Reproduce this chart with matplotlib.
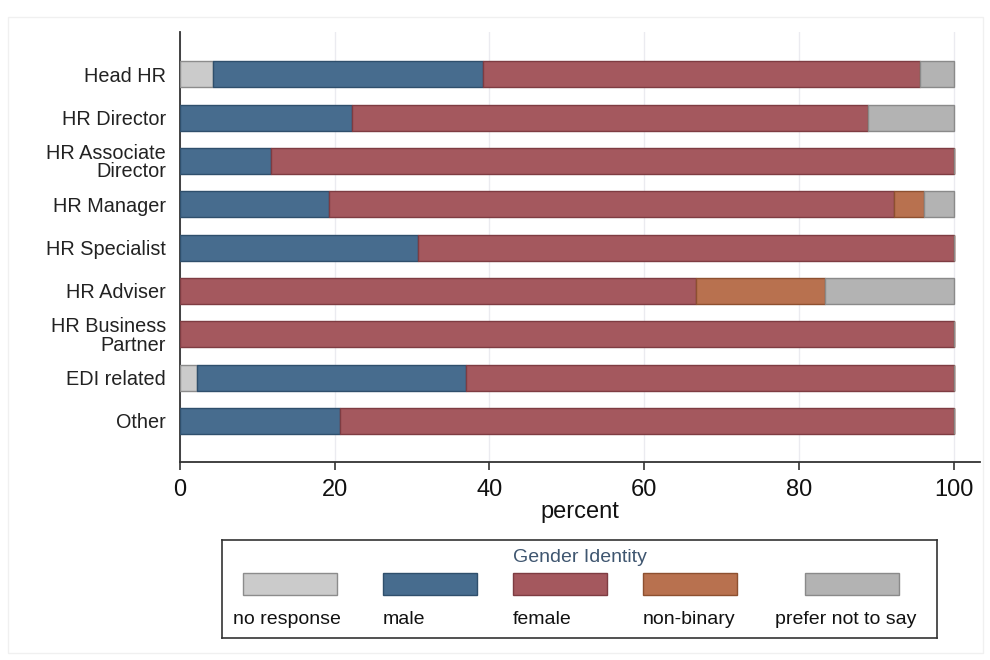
import matplotlib.pyplot as plt
import numpy as np
from matplotlib.patches import Rectangle

plt.rcParams['font.family'] = ['Liberation Sans', 'DejaVu Sans']

# categories (top to bottom)
roles = ["Head HR", "HR Director", "HR Associate\nDirector", "HR Manager",
         "HR Specialist", "HR Adviser", "HR Business\nPartner", "EDI related", "Other"]

# percent per gender identity
no_response = [4.3, 0, 0, 0, 0, 0, 0, 2.2, 0]
male = [34.8, 22.2, 11.8, 19.2, 30.8, 0, 0, 34.8, 20.7]
female = [56.5, 66.7, 88.2, 73.1, 69.2, 66.7, 100, 63.0, 79.3]
non_binary = [0, 0, 0, 3.9, 0, 16.7, 0, 0, 0]
prefer_not = [4.4, 11.1, 0, 3.8, 0, 16.6, 0, 0, 0]

series = [no_response, male, female, non_binary, prefer_not]
labels = ["no response", "male", "female", "non-binary", "prefer not to say"]
colors = ["#cbcbcb", "#476c8e", "#a4585e", "#b8714f", "#b3b3b3"]
edges = ["#8c8c8c", "#2f4f6c", "#7e3c42", "#8d5030", "#8a8a8a"]

fig = plt.figure(figsize=(9.9, 6.6), dpi=100)
# faint outer frame
fig.patches.append(Rectangle((0.008, 0.01), 0.985, 0.965, transform=fig.transFigure,
                             fill=False, edgecolor="#f0f0f0", linewidth=1))

ax = fig.add_axes([180 / 990, 1 - 462 / 660, 800 / 990, 430 / 660])
y = np.arange(len(roles))
left = np.zeros(len(roles))
for vals, c, ec in zip(series, colors, edges):
    vals = np.array(vals)
    ax.barh(y, vals, left=left, height=0.6, color=c, edgecolor=ec, linewidth=1, zorder=3)
    left += vals

ax.set_ylim(len(roles) - 0.05, -0.98)
ax.set_xlim(0, 103.4)
ax.set_yticks(y)
ax.set_yticklabels(roles, fontsize=14.3, color="#222222", linespacing=0.95)
ax.set_xticks([0, 20, 40, 60, 80, 100])
ax.tick_params(axis="y", length=0, pad=10)
ax.tick_params(axis="x", length=6, width=1.2, color="#333333", labelsize=17, pad=6, labelcolor="#111111")
ax.set_xlabel("percent", fontsize=17, labelpad=0, color="#111111")
ax.grid(axis="x", color="#ebebf0", linewidth=1, zorder=0)
for s in ["top", "right"]:
    ax.spines[s].set_visible(False)
for s in ["left", "bottom"]:
    ax.spines[s].set_color("#333333")
    ax.spines[s].set_linewidth(1.3)

# custom legend box
lax = fig.add_axes([222 / 990, 1 - 638 / 660, 715 / 990, 98 / 660])
lax.set_xlim(222, 937)
lax.set_ylim(638, 540)
lax.set_xticks([])
lax.set_yticks([])
for s in lax.spines.values():
    s.set_color("#333333")
    s.set_linewidth(1.2)
lax.text(580, 558, "Gender Identity", ha="center", va="center", fontsize=14, color="#3f5670")
patch_x = [243, 383, 513, 643, 805]
text_x = [233, 383, 513, 643, 775]
for px, tx, lab, c, ec in zip(patch_x, text_x, labels, colors, edges):
    lax.add_patch(Rectangle((px, 573), 94, 22, facecolor=c, edgecolor=ec, linewidth=1))
    lax.text(tx, 620, lab, ha="left", va="center", fontsize=14, color="#111111")

fig.savefig("out.png", dpi=100)
